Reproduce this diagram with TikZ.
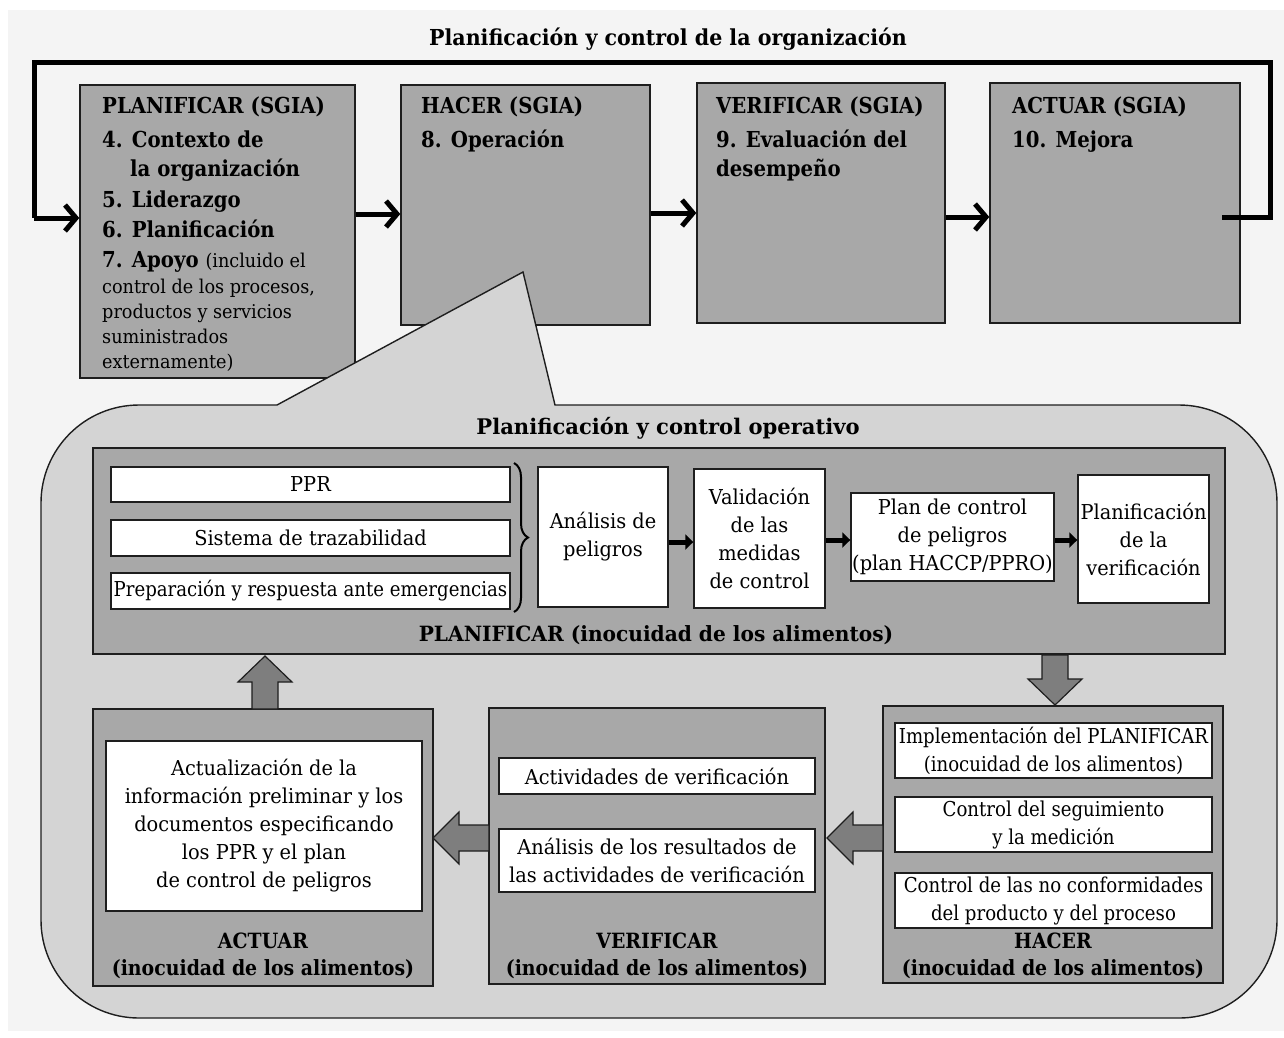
\documentclass[tikz,border=0pt]{standalone}
\usepackage{fontspec}
\setmainfont{DejaVu Serif}[FakeStretch=0.9]
\newfontfamily\famTitle{DejaVu Serif}[FakeStretch=0.935]
\newfontfamily\famTopB{DejaVu Serif}[FakeStretch=0.895]
\newfontfamily\famTopN{DejaVu Serif}[FakeStretch=0.93]
\newfontfamily\famLowN{DejaVu Serif}[FakeStretch=0.945]
\newfontfamily\famPrepN{DejaVu Serif}[FakeStretch=0.885]
\newfontfamily\famHacN{DejaVu Serif}[FakeStretch=0.885]
\newfontfamily\famLowB{DejaVu Serif}[FakeStretch=0.9]
\newfontfamily\famPFB{DejaVu Serif}[FakeStretch=0.96]
\newfontfamily\famSubB{DejaVu Serif}[FakeStretch=0.98]
\usetikzlibrary{arrows.meta,decorations.pathreplacing}
\definecolor{bg}{HTML}{F4F4F4}
\definecolor{boxgray}{HTML}{A8A8A8}
\definecolor{callgray}{HTML}{D4D4D4}
\definecolor{arrgray}{HTML}{7E7E7E}
\definecolor{edge}{HTML}{1E1E1E}
\newcommand\myTitle{\famTitle\fontsize{22}{30}\selectfont\bfseries}
\newcommand\myTopB{\famTopB\fontsize{22}{30}\selectfont\bfseries}
\newcommand\myTopN{\famTopN\fontsize{19}{25}\selectfont}
\newcommand\myLowN{\famLowN\fontsize{20.5}{28}\selectfont}
\newcommand\myPrepN{\famPrepN\fontsize{20.5}{28}\selectfont}
\newcommand\myHacN{\famHacN\fontsize{20.5}{28}\selectfont}
\newcommand\myLowB{\famLowB\fontsize{21}{28}\selectfont\bfseries}
\newcommand\myPFB{\famPFB\fontsize{21}{28}\selectfont\bfseries}
\newcommand\mySubB{\famSubB\fontsize{21.5}{28}\selectfont\bfseries}
\tikzset{
  darkbox/.style={draw=edge, line width=1.4pt, fill=boxgray, inner sep=0pt},
  whitebox/.style={draw=edge, line width=1.4pt, fill=white, inner sep=0pt, align=center, font=\myLowN},
  hacbox/.style={whitebox, font=\myHacN},
  toptxt/.style={anchor=base west, inner sep=0pt, font=\myTopB},
  toptxtn/.style={anchor=base west, inner sep=0pt, font=\myTopN},
  lowlab/.style={anchor=base, inner sep=0pt, font=\myLowB},
  bigarr/.style={line width=5pt, -{Straight Barb[length=11pt,width=26pt]}},
  loopline/.style={line width=5pt, line join=miter},
  smallarr/.style={line width=5pt, -{Triangle[length=8pt,width=15pt]}},
  blockarr/.style={draw=edge, line width=1.2pt, fill=arrgray, line join=miter},
  bracestyle/.style={line width=2pt, decorate, decoration={brace, amplitude=14pt}}
}
\begin{document}
\begin{tikzpicture}[x=1pt,y=-1pt]
\useasboundingbox (0,0) rectangle (1284,1037);
\fill[white] (0,0) rectangle (1284,1037);
\fill[bg] (8,10) rectangle (1284,1031);

\node[anchor=base, inner sep=0pt, font=\myTitle] (title) at (668,45) {Planificación y control de la organización};

% top boxes
\node[darkbox, minimum width=275pt, minimum height=293pt] (P1) at (217.5,231.5) {};
\node[darkbox, minimum width=249pt, minimum height=240pt] (H1) at (525.5,205) {};
\node[darkbox, minimum width=248pt, minimum height=240pt] (V1) at (821,203) {};
\node[darkbox, minimum width=250pt, minimum height=240pt] (A1) at (1115,203) {};

\node[toptxt] (p1a) at (102,113) {PLANIFICAR (SGIA)};
\node[toptxt] (p1b) at (102,147) {4. Contexto de};
\node[toptxt] (p1c) at (130,176) {la organización};
\node[toptxt] (p1d) at (102,207) {5. Liderazgo};
\node[toptxt] (p1e) at (102,237) {6. Planificación};
\node[toptxt] (p1f) at (102,267) {7. Apoyo {\myTopN\mdseries (incluido el}};
\node[toptxtn] (p1g) at (102,293) {control de los procesos,};
\node[toptxtn] (p1h) at (102,318) {productos y servicios};
\node[toptxtn] (p1i) at (102,343) {suministrados};
\node[toptxtn] (p1j) at (102,368) {externamente)};

\node[toptxt] (h1a) at (421,113) {HACER (SGIA)};
\node[toptxt] (h1b) at (421,147) {8. Operación};
\node[toptxt] (v1a) at (716,113) {VERIFICAR (SGIA)};
\node[toptxt] (v1b) at (716,147) {9. Evaluación del};
\node[toptxt] (v1c) at (716,176) {desempeño};
\node[toptxt] (a1a) at (1012,113) {ACTUAR (SGIA)};
\node[toptxt] (a1b) at (1012,147) {10. Mejora};

% top connectors
\coordinate (ls) at (1222,217);
\draw[loopline] (ls) -- (1270,217) -- (1270,62) -- (34,62) -- (34,218);
\draw[bigarr] (34,218) -- (P1.west |- 0,218);
\draw[bigarr] (P1.east |- 0,214) -- (H1.west |- 0,214);
\draw[bigarr] (H1.east |- 0,213) -- (V1.west |- 0,213);
\draw[bigarr] (V1.east |- 0,217) -- (A1.west |- 0,217);

% callout
\draw[draw=edge, line width=1.4pt, fill=callgray]
  (555,405) -- (1179,405) arc[start angle=-90, end angle=0, radius=98]
  -- (1277,920) arc[start angle=0, end angle=90, radius=98]
  -- (139,1018) arc[start angle=90, end angle=180, radius=98]
  -- (41,503) arc[start angle=180, end angle=270, radius=98]
  -- (277,405) -- (523,272) -- cycle;

\node[anchor=base, inner sep=0pt, font=\mySubB] (sub) at (668,434) {Planificación y control operativo};

% PLANIFICAR (food)
\node[darkbox, minimum width=1132pt, minimum height=206pt] (PF) at (659,551) {};
\node[whitebox, minimum width=399pt, minimum height=35pt] (PPR) at (310.5,484.5) {PPR};
\node[whitebox, minimum width=399pt, minimum height=36pt] (ST) at (310.5,538) {Sistema de trazabilidad};
\node[whitebox, font=\myPrepN, minimum width=399pt, minimum height=36pt] (PR) at (310.5,591) {Preparación y respuesta ante emergencias};
\draw[bracestyle] (514,463) -- (514,612);
\node[whitebox, minimum width=130pt, minimum height=140pt] (AN) at (603,537) {Análisis de\\peligros};
\node[whitebox, minimum width=131pt, minimum height=139pt] (VA) at (759.5,538.5) {Validación\\de las\\medidas\\de control};
\node[whitebox, minimum width=203pt, minimum height=88pt] (PC) at (952.5,537) {Plan de control\\de peligros\\(plan HACCP/PPRO)};
\node[whitebox, minimum width=131pt, minimum height=128pt] (PV) at (1143.5,539) {Planificación\\de la\\verificación};
\draw[smallarr] (AN.east |- 0,542) -- (VA.west |- 0,542);
\draw[smallarr] (VA.east |- 0,540) -- (PC.west |- 0,540);
\draw[smallarr] (PC.east |- 0,540) -- (PV.west |- 0,540);
\node[anchor=base, inner sep=0pt, font=\myPFB] (pfl) at (656,641) {PLANIFICAR (inocuidad de los alimentos)};

% HACER (food)
\node[darkbox, minimum width=340pt, minimum height=277pt] (HF) at (1053,844.5) {};
\node[hacbox, minimum width=317pt, minimum height=55pt] (IM) at (1053.5,750.5) {Implementación del PLANIFICAR\\(inocuidad de los alimentos)};
\node[hacbox, minimum width=317pt, minimum height=55pt] (CS) at (1053.5,824.5) {Control del seguimiento\\y la medición};
\node[hacbox, minimum width=317pt, minimum height=55pt] (CN) at (1053.5,900.5) {Control de las no conformidades\\del producto y del proceso};
\node[lowlab] (hfl1) at (1053,948) {HACER};
\node[lowlab] (hfl2) at (1053,975.5) {(inocuidad de los alimentos)};

% VERIFICAR (food)
\node[darkbox, minimum width=336pt, minimum height=276pt] (VF) at (657,846) {};
\node[whitebox, minimum width=316pt, minimum height=36pt] (AV) at (657,776) {Actividades de verificación};
\node[whitebox, minimum width=316pt, minimum height=63pt] (AR) at (657,860.5) {Análisis de los resultados de\\las actividades de verificación};
\node[lowlab] (vfl1) at (657,948) {VERIFICAR};
\node[lowlab] (vfl2) at (657,975.5) {(inocuidad de los alimentos)};

% ACTUAR (food)
\node[darkbox, minimum width=340pt, minimum height=277pt] (AF) at (263,847.5) {};
\node[whitebox, minimum width=316pt, minimum height=170pt] (AU) at (264,826) {Actualización de la\\información preliminar y los\\documentos especificando\\los PPR y el plan\\de control de peligros};
\node[lowlab] (afl1) at (263,948) {ACTUAR};
\node[lowlab] (afl2) at (263,975.5) {(inocuidad de los alimentos)};

% block arrows
\draw[blockarr] (1042,655) -- (1042,679) -- (1028,679) -- (1055,705) -- (1082,679) -- (1068,679) -- (1068,655) -- cycle;
\draw[blockarr] (883,825) -- (853,825) -- (853,812) -- (827,838) -- (853,864) -- (853,851) -- (883,851) -- cycle;
\draw[blockarr] (489,825) -- (459,825) -- (459,812) -- (433,838) -- (459,864) -- (459,851) -- (489,851) -- cycle;
\draw[blockarr] (252,709) -- (252,682) -- (238,682) -- (265,656) -- (292,682) -- (278,682) -- (278,709) -- cycle;
\end{tikzpicture}
\end{document}
